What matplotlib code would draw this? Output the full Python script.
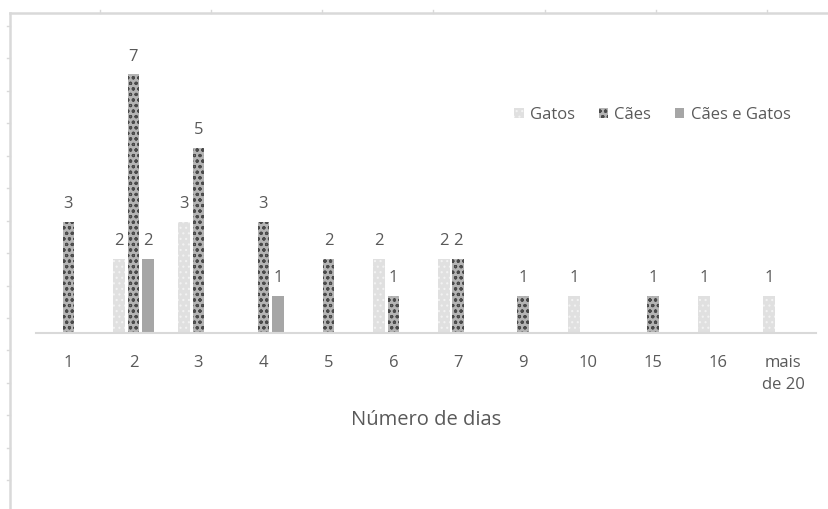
import matplotlib.pyplot as plt
from matplotlib.lines import Line2D
import numpy as np

plt.rcParams['font.family'] = ['Open Sans', 'DejaVu Sans']
plt.rcParams['hatch.linewidth'] = 0.8

categorias = ['1', '2', '3', '4', '5', '6', '7', '9', '10', '15', '16', 'mais\nde 20']
gatos = [0, 2, 3, 0, 0, 2, 2, 0, 1, 0, 1, 1]
caes = [3, 7, 5, 3, 2, 1, 2, 1, 0, 1, 0, 0]
caes_gatos = [0, 2, 0, 1, 0, 0, 0, 0, 0, 0, 0, 0]

cor_texto = '#595959'
cor_linha = '#d9d9d9'

fig = plt.figure(figsize=(8.29, 5.09), dpi=100)
ax = fig.add_axes([0.0434, 0.3458, 0.9406, 0.581])

x = np.arange(len(categorias))
w = 0.18
passo = 0.222

b1 = ax.bar(x - passo, gatos, w, color='#e0e0e0', edgecolor='#f2f2f2',
            hatch='...', linewidth=0, label='Gatos')
b2 = ax.bar(x, caes, w, color='#b4b4b4', edgecolor='#4a4a4a',
            hatch='ooo', linewidth=0, label='Cães')
b3 = ax.bar(x + passo, caes_gatos, w, color='#a6a6a6', linewidth=0,
            label='Cães e Gatos')

for barras, vals in [(b1, gatos), (b2, caes), (b3, caes_gatos)]:
  rot = [str(v) if v > 0 else '' for v in vals]
  ax.bar_label(barras, labels=rot, padding=7, fontsize=12, color=cor_texto)

ax.set_xlim(-0.5, len(categorias) - 0.5)
ax.set_ylim(0, 8)
ax.set_xticks(x)
ax.set_xticklabels(categorias, fontsize=12, color=cor_texto, linespacing=1.5)
ax.tick_params(axis='x', length=0, pad=16)
ax.set_yticks([])
for s in ['top', 'right', 'left']:
  ax.spines[s].set_visible(False)
ax.spines['bottom'].set_color(cor_linha)
ax.spines['bottom'].set_linewidth(1.5)

ax.set_xlabel('Número de dias', fontsize=14.5, color=cor_texto, labelpad=12)

ax.legend(loc='center', bbox_to_anchor=(0.787, 0.775), bbox_transform=fig.transFigure,
          ncol=3, frameon=False, fontsize=12, labelcolor=cor_texto,
          handlelength=0.55, handleheight=0.55, handletextpad=0.4, columnspacing=1.4)

# borda da área do gráfico (recorte da folha)
W, H = 829, 509
fig.add_artist(Line2D([10 / W, 10 / W], [0, 1 - 13 / H], color=cor_linha, lw=1.8))
fig.add_artist(Line2D([10 / W, 1], [1 - 13 / H, 1 - 13 / H], color=cor_linha, lw=1.8))
for px in [100, 211, 322, 433, 545, 656, 767]:
  fig.add_artist(Line2D([px / W, px / W], [1 - 13 / H, 1 - 10 / H], color=cor_linha, lw=1))
for py in [26, 58, 91, 123, 156, 188, 221, 253, 286, 318, 350, 383, 415, 448, 480]:
  fig.add_artist(Line2D([7 / W, 10 / W], [1 - py / H, 1 - py / H], color=cor_linha, lw=1))

plt.savefig('out.png', dpi=100)
